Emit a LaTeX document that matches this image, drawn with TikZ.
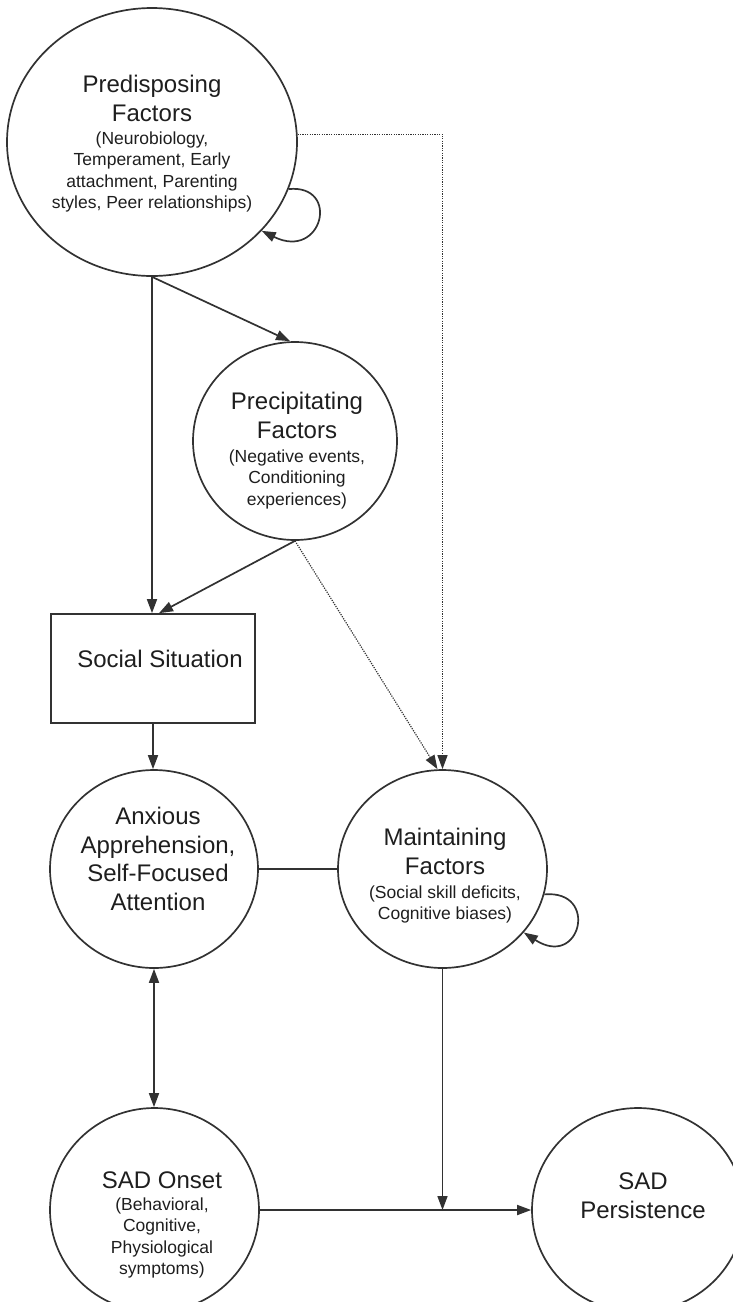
\documentclass[tikz,border=0pt]{standalone}
\usepackage{fontspec}
\setmainfont{Liberation Sans}
\usepackage{tikz}
\usetikzlibrary{shapes.geometric,arrows.meta,positioning,calc}
\definecolor{ink}{RGB}{50,50,50}
\definecolor{txt}{RGB}{30,30,30}

\begin{document}
\begin{tikzpicture}[
  x=1pt,y=-1pt,
  bub/.style={draw=ink,ellipse,line width=1.7pt,inner sep=0pt},
  sbox/.style={draw=ink,rectangle,line width=1.7pt,minimum width=204pt,minimum height=109pt,inner sep=0pt},
  ttl/.style={align=center,text=txt,inner sep=0pt,font=\fontsize{24}{28.5}\selectfont},
  sub/.style={align=center,text=txt,inner sep=0pt,font=\fontsize{17.5}{21.5}\selectfont},
  arr/.style={-{Triangle[length=14pt,width=10pt]},line width=1.7pt,draw=ink},
  darr/.style={-{Triangle[length=14pt,width=10pt]},line width=1.2pt,draw=ink,dash pattern=on 1.2pt off 1.2pt},
]
\useasboundingbox (0,0) rectangle (733,1302);

% circles and box
\node[bub,minimum width=290pt,minimum height=268pt] (pre) at (152,142) {};
\node[bub,minimum width=204pt,minimum height=198pt] (prec) at (295,441) {};
\node[sbox] (soc) at (153,668.5) {};
\node[bub,minimum width=208pt,minimum height=198pt] (anx) at (154,869) {};
\node[bub,minimum width=209pt,minimum height=198pt] (mai) at (442.5,869) {};
\node[bub,minimum width=209pt,minimum height=204pt] (onset) at (154.5,1210) {};
\node[bub,minimum width=212pt,minimum height=204pt] (pers) at (638,1210) {};

% texts
\node[ttl,anchor=north] (pret) at (152,75) {Predisposing\\Factors};
\node[sub,below=10pt of pret] (pres) {(Neurobiology,\\Temperament, Early\\attachment, Parenting\\styles, Peer relationships)};
\node[ttl,anchor=north] (prect) at (297,392) {Precipitating\\Factors};
\node[sub,below=11pt of prect] (precs) {(Negative events,\\Conditioning\\experiences)};
\node[ttl,anchor=north] (soct) at (160,650) {Social Situation};
\node[ttl,anchor=north] (anxt) at (158,807) {Anxious\\Apprehension,\\Self-Focused\\Attention};
\node[ttl,anchor=north] (mait) at (445,828) {Maintaining\\Factors};
\node[sub,below=11pt of mait] (mais) {(Social skill deficits,\\Cognitive biases)};
\node[ttl,anchor=north] (onsett) at (162,1172) {SAD Onset};
\node[sub,below=8pt of onsett] (onsets) {(Behavioral,\\Cognitive,\\Physiological\\symptoms)};
\node[ttl,anchor=north] (perst) at (643,1173) {SAD\\Persistence};

% solid arrows
\draw[arr] (pre.south) -- (pre.south |- soc.north);
\draw[arr] (pre.south) -- ([xshift=-5pt]prec.north);
\draw[arr] (prec.south) -- ([xshift=6pt]soc.north);
\draw[arr] (soc.south) -- (soc.south |- anx.north);
\draw[line width=1.7pt,draw=ink] (anx.east) -- (mai.west);
\draw[arr,{Triangle[length=14pt,width=10pt]}-{Triangle[length=14pt,width=10pt]}] (anx.south) -- (anx.south |- onset.north);
\draw[arr] (onset.east) -- (pers.west);
\coordinate (jn) at (mai.south |- pers.west);
\draw[arr] (mai.south) -- (jn);

% dotted arrows
\draw[darr] (pre.3) -| (mai.north);
\draw[darr] (prec.south) -- ([xshift=-5pt]mai.north);

% self loops
\draw[arr] (pre.-19) .. controls +(52,-5) and +(61,30) .. (pre.-39);
\draw[arr] (mai.-14) .. controls +(55,-5) and +(57,37) .. (mai.-38);
\end{tikzpicture}
\end{document}
